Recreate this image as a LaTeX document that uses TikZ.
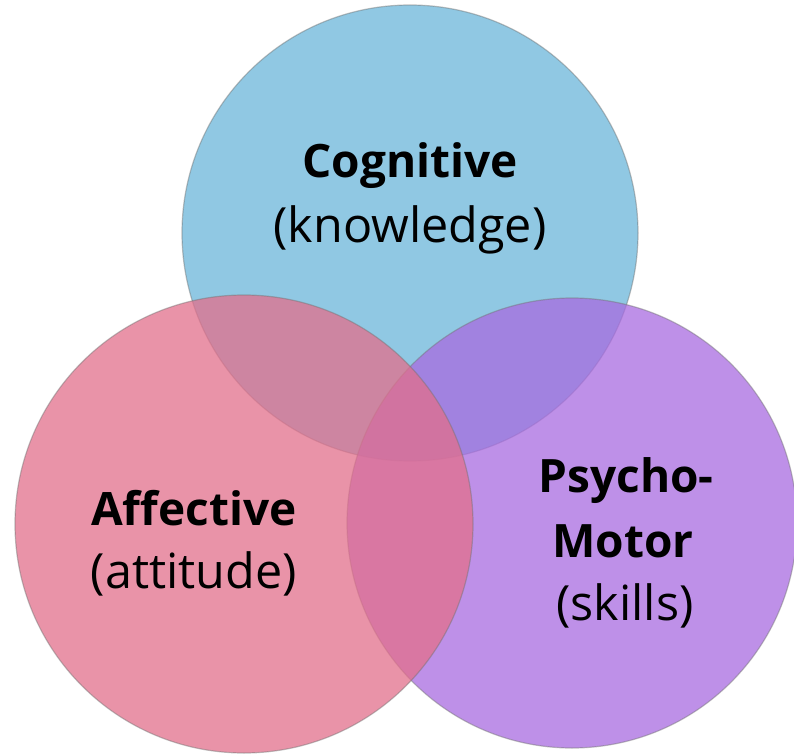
\documentclass[tikz,border=0pt]{standalone}
\usepackage{fontspec}
\setmainfont{Open Sans}
\begin{document}
\begin{tikzpicture}[x=1pt,y=-1pt,
  disc/.style={circle, inner sep=0pt, draw=black!55, draw opacity=0.45, line width=1.2pt},
  lbl/.style={font=\fontsize{48.5}{64}\selectfont, align=center, anchor=base, inner sep=0pt},
  ttl/.style={lbl, font=\fontsize{46}{64}\selectfont\bfseries}]
\useasboundingbox (0,0) rectangle (794,754);
\definecolor{cblue}{RGB}{144,200,227}
\definecolor{cpink}{RGB}{226,111,139}
\definecolor{cpurple}{RGB}{168,107,224}
\node[disc, fill=cblue, minimum size=456pt] (cog) at (410,233) {};
\node[disc, fill=cpurple, fill opacity=0.75, minimum size=450pt] (psy) at (572,523) {};
\node[disc, fill=cpink, fill opacity=0.75, minimum size=458pt] (aff) at (244,524) {};
\node[ttl] (t1) at (410,177) {Cognitive};
\node[lbl] (t1b) at (410,242) {(knowledge)};
\node[ttl] (t2) at (194,525) {Affective};
\node[lbl] (t2b) at (194,588) {(attitude)};
\node[ttl] (t3) at (626,492) {Psycho-};
\node[ttl] (t3b) at (623,557) {Motor};
\node[lbl] (t3c) at (625,620) {(skills)};
\end{tikzpicture}
\end{document}
